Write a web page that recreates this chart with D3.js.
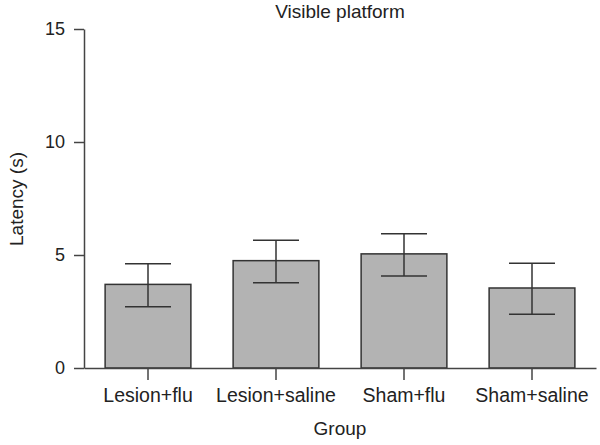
<!DOCTYPE html>
<html>
<head>
<meta charset="utf-8">
<script src="https://cdn.jsdelivr.net/npm/d3@7"></script>
<style>
  body { margin: 0; background: #fff; }
  text { font-family: "Liberation Sans", Arial, sans-serif; fill: #222; }
</style>
</head>
<body>
<svg id="chart" width="600" height="445"></svg>
<script>
var groups = ["Lesion+flu", "Lesion+saline", "Sham+flu", "Sham+saline"];
var means = [3.70, 4.75, 5.05, 3.54];
var errHigh = [4.61, 5.65, 5.94, 4.63];
var errLow = [2.71, 3.77, 4.07, 2.38];
var yTicks = [0, 5, 10, 15];

var data = groups.map(function(g, i) {
  return { group: g, mean: means[i], hi: errHigh[i], lo: errLow[i] };
});

var margin = { top: 29, right: 4, bottom: 77, left: 84 };
var width = 600 - margin.left - margin.right;
var height = 445 - margin.top - margin.bottom;

var svg = d3.select("#chart")
  .append("g")
    .attr("transform", "translate(" + margin.left + "," + margin.top + ")");

var x = d3.scaleBand().domain(groups)
  .range([0, width])
  .paddingInner(0.33)
  .paddingOuter(0.165);

var y = d3.scaleLinear().domain([0, 15])
  .range([height, 0]);

// bars
svg.selectAll(".bar")
  .data(data)
  .enter()
  .append("rect")
    .attr("x", function(d) { return x(d.group) })
    .attr("y", function(d) { return y(d.mean) })
    .attr("width", x.bandwidth())
    .attr("height", function(d) { return height - y(d.mean) })
    .attr("fill", "#b3b3b3")
    .attr("stroke", "#333")
    .attr("stroke-width", 1.5);

// error bars
var capHalf = 23;
var eb = svg.selectAll(".err")
  .data(data)
  .enter()
  .append("g")
    .attr("stroke", "#333")
    .attr("stroke-width", 1.5);

eb.append("line")
  .attr("x1", function(d) { return x(d.group) + x.bandwidth() / 2 })
  .attr("x2", function(d) { return x(d.group) + x.bandwidth() / 2 })
  .attr("y1", function(d) { return y(d.hi) })
  .attr("y2", function(d) { return y(d.lo) });

eb.append("line")
  .attr("x1", function(d) { return x(d.group) + x.bandwidth() / 2 - capHalf })
  .attr("x2", function(d) { return x(d.group) + x.bandwidth() / 2 + capHalf })
  .attr("y1", function(d) { return y(d.hi) })
  .attr("y2", function(d) { return y(d.hi) });

eb.append("line")
  .attr("x1", function(d) { return x(d.group) + x.bandwidth() / 2 - capHalf })
  .attr("x2", function(d) { return x(d.group) + x.bandwidth() / 2 + capHalf })
  .attr("y1", function(d) { return y(d.lo) })
  .attr("y2", function(d) { return y(d.lo) });

// axes
var xAxis = svg.append("g")
  .attr("transform", "translate(0," + height + ")")
  .call(d3.axisBottom(x).tickSizeOuter(0).tickSizeInner(12).tickPadding(8));

var yAxis = svg.append("g")
  .call(d3.axisLeft(y).tickValues(yTicks).tickSizeOuter(0).tickSizeInner(10).tickPadding(9));

[xAxis, yAxis].forEach(function(a) {
  a.select(".domain").attr("stroke", "#444").attr("stroke-width", 1.5);
  a.selectAll(".tick line").attr("stroke", "#444").attr("stroke-width", 1.5);
  a.selectAll(".tick text")
    .style("font-family", "'Liberation Sans', Arial, sans-serif")
    .attr("fill", "#222");
});
xAxis.selectAll(".tick text").style("font-size", "19.5px");
yAxis.selectAll(".tick text").style("font-size", "18px");

// title and labels
svg.append("text")
  .attr("x", width / 2)
  .attr("y", -11)
  .attr("text-anchor", "middle")
  .style("font-size", "19px")
  .text("Visible platform");

svg.append("text")
  .attr("x", width / 2)
  .attr("y", height + 67)
  .attr("text-anchor", "middle")
  .style("font-size", "19px")
  .text("Group");

svg.append("text")
  .attr("transform", "rotate(-90)")
  .attr("x", -(199 - margin.top))
  .attr("y", -margin.left + 23)
  .attr("text-anchor", "middle")
  .style("font-size", "19px")
  .text("Latency (s)");
</script>
</body>
</html>
